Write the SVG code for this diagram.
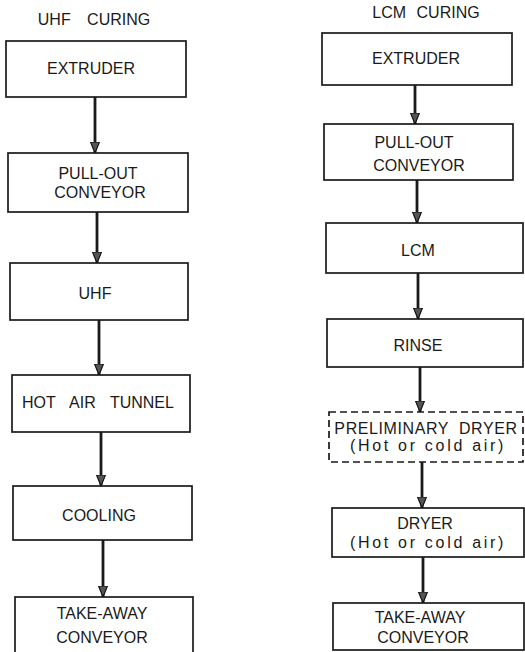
<svg xmlns="http://www.w3.org/2000/svg" width="525" height="652" viewBox="0 0 525 652">
<defs>
<marker id="ah" viewBox="0 -5 12 10" refX="11" refY="0" markerWidth="12" markerHeight="10" markerUnits="userSpaceOnUse" orient="auto">
<path d="M0,-4.5 L11,0 L0,4.5 z" fill="#555" stroke="#111" stroke-width="1.2"/>
</marker>
<style>
.box{fill:#fff;stroke:#1a1a1a;stroke-width:1.7}
.dash{fill:#fff;stroke:#1a1a1a;stroke-width:1.7;stroke-dasharray:7 4}
.t{font-family:"Liberation Sans",Arial,sans-serif;font-size:16px;fill:#1a1a1a;text-anchor:middle}
.ti{font-family:"Liberation Sans",Arial,sans-serif;font-size:16px;fill:#1a1a1a;text-anchor:middle}
.sp{letter-spacing:2.7px}
.arr{stroke:#1a1a1a;stroke-width:2.8;fill:none;marker-end:url(#ah)}
</style>
</defs>
<rect width="525" height="652" fill="#fff"/>
<text class="ti" x="94" y="25" word-spacing="12">UHF CURING</text>
<text class="ti" x="426" y="18" word-spacing="6">LCM CURING</text>

<g id="connectors">
<line class="arr" x1="95" y1="97" x2="95" y2="153"/>
<line class="arr" x1="97" y1="212" x2="97" y2="263"/>
<line class="arr" x1="99" y1="320" x2="99" y2="375"/>
<line class="arr" x1="101" y1="432" x2="101" y2="486"/>
<line class="arr" x1="103" y1="540" x2="103" y2="597"/>
<line class="arr" x1="415" y1="85" x2="415" y2="124"/>
<line class="arr" x1="417" y1="180" x2="417" y2="223"/>
<line class="arr" x1="418" y1="273" x2="418" y2="319"/>
<line class="arr" x1="420" y1="367" x2="420" y2="412"/>
<line class="arr" x1="422" y1="462" x2="422" y2="508"/>
<line class="arr" x1="423" y1="557" x2="423" y2="603"/>
</g>

<g id="u-extruder"><rect class="box" x="6" y="41" width="180" height="56"/><text class="t" x="91" y="74">EXTRUDER</text></g>
<g id="u-pullout"><rect class="box" x="8" y="153" width="180" height="59"/><text class="t" x="98" y="179">PULL-OUT</text><text class="t" x="100" y="198">CONVEYOR</text></g>
<g id="u-uhf"><rect class="box" x="10" y="263" width="178" height="57"/><text class="t" x="95" y="299">UHF</text></g>
<g id="u-tunnel"><rect class="box" x="12" y="375" width="178" height="57"/><text class="t" x="98" y="408" word-spacing="10">HOT AIR TUNNEL</text></g>
<g id="u-cooling"><rect class="box" x="13" y="486" width="179" height="54"/><text class="t" x="99" y="521">COOLING</text></g>
<g id="u-takeaway"><rect class="box" x="15" y="597" width="178" height="60"/><text class="t" x="102" y="619">TAKE-AWAY</text><text class="t" x="102" y="643">CONVEYOR</text></g>

<g id="l-extruder"><rect class="box" x="322" y="33" width="190" height="52"/><text class="t" x="416" y="64">EXTRUDER</text></g>
<g id="l-pullout"><rect class="box" x="324" y="124" width="189" height="56"/><text class="t" x="414" y="148">PULL-OUT</text><text class="t" x="419" y="171">CONVEYOR</text></g>
<g id="l-lcm"><rect class="box" x="326" y="223" width="197" height="50"/><text class="t" x="418" y="256">LCM</text></g>
<g id="l-rinse"><rect class="box" x="327" y="319" width="196" height="48"/><text class="t" x="418" y="351">RINSE</text></g>
<g id="l-predryer"><rect class="dash" x="329" y="412" width="194" height="50"/><text class="t" x="426" y="434" letter-spacing="0.6" word-spacing="5">PRELIMINARY DRYER</text><text class="t sp" x="428" y="451">(Hot or cold air)</text></g>
<g id="l-dryer"><rect class="box" x="332" y="508" width="192" height="49"/><text class="t" x="425" y="529">DRYER</text><text class="t sp" x="428" y="548">(Hot or cold air)</text></g>
<g id="l-takeaway"><rect class="box" x="333" y="603" width="191" height="47"/><text class="t" x="420" y="623">TAKE-AWAY</text><text class="t" x="423" y="643">CONVEYOR</text></g>
</svg>
